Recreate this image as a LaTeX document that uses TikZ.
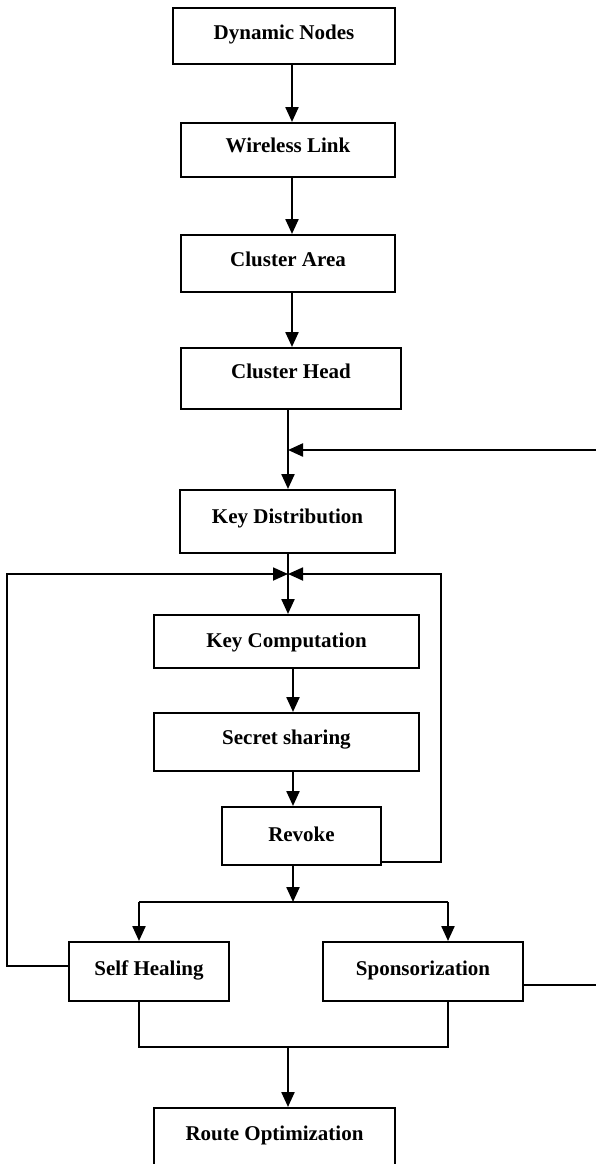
\documentclass[tikz,border=0pt]{standalone}
\usepackage{fontspec}
\setmainfont{Liberation Serif}
\usetikzlibrary{arrows.meta}
\begin{document}
\begin{tikzpicture}[x=1pt,y=-1pt,
  box/.style={draw, line width=2pt, inner sep=0pt,
    font=\fontsize{21}{25}\selectfont\bfseries, text height=14pt, text depth=8pt},
  tip/.style={-{Triangle[width=13pt,length=15pt]}},
  arr/.style={line width=2.3pt, tip},
  ln/.style={line width=1.8pt}]
\useasboundingbox (0,0) rectangle (596,1164);
\fill[white] (0,0) rectangle (596,1164);
\clip (0,0) rectangle (596,1164);
% boxes
\node[box, minimum width=222pt, minimum height=56pt, text depth=6pt] (dyn) at (284,36) {Dynamic Nodes};
\node[box, minimum width=214pt, minimum height=54pt, text depth=10pt] (wl) at (288,150) {Wireless Link};
\node[box, minimum width=214pt, minimum height=57pt] (ca) at (288,263.5) {Cluster Area};
\node[box, minimum width=220pt, minimum height=61pt, text depth=14pt] (ch) at (291,378.5) {Cluster Head};
\node[box, minimum width=215pt, minimum height=63pt, text depth=11pt] (kd) at (287.5,521.5) {Key Distribution};
\node[box, minimum width=265pt, minimum height=53pt, text depth=3pt] (kc) at (286.5,641.5) {Key Computation};
\node[box, minimum width=265pt, minimum height=58pt, text depth=10pt] (ss) at (286.5,742) {Secret sharing};
\node[box, minimum width=159pt, minimum height=58pt, text depth=4pt] (rv) at (301.5,836) {Revoke};
\node[box, minimum width=160pt, minimum height=59pt, text depth=7pt] (sh) at (149,971.5) {Self Healing};
\node[box, minimum width=200pt, minimum height=59pt, text depth=7pt] (sp) at (423,971.5) {Sponsorization};
\node[box, minimum width=241pt, minimum height=60pt, text depth=10pt] (ro) at (274.5,1138) {Route Optimization};
% helper coordinates
\coordinate (xA) at (292,0);
\coordinate (xB) at (288,0);
\coordinate (xC) at (293,0);
\coordinate (xL) at (7,0);
\coordinate (xR) at (441,0);
\coordinate (xE) at (597,0);
\coordinate (xSH) at (139,0);
\coordinate (xSP) at (448,0);
\coordinate (yIn) at (0,450);
\coordinate (yX) at (0,574);
\coordinate (ySplit) at (0,902);
\coordinate (yMerge) at (0,1047);
\coordinate (ySP) at (0,985);
\coordinate (ySH) at (0,966);
\coordinate (yRV) at (0,862);
% main chain
\draw[arr] (dyn.south -| xA) -- (wl.north -| xA);
\draw[arr] (wl.south -| xA) -- (ca.north -| xA);
\draw[arr] (ca.south -| xA) -- (ch.north -| xA);
\draw[arr] (ch.south -| xB) -- (kd.north -| xB);
\draw[arr] (xE |- yIn) -- (xB |- yIn);
\draw[arr] (kd.south -| xB) -- (kc.north -| xB);
\draw[arr] (kc.south -| xC) -- (ss.north -| xC);
\draw[arr] (ss.south -| xC) -- (rv.north -| xC);
% feedback loops
\draw[ln, tip] (sh.west |- ySH) -- (xL |- ySH) -- (xL |- yX) -- (xB |- yX);
\draw[ln, tip] (rv.east |- yRV) -- (xR |- yRV) -- (xR |- yX) -- (xB |- yX);
\draw[ln] (sp.east |- ySP) -- (xE |- ySP);
% split
\draw[arr] (rv.south -| xC) -- (xC |- ySplit);
\draw[ln] (xSH |- ySplit) -- (xSP |- ySplit);
\draw[arr] (xSH |- ySplit) -- (sh.north -| xSH);
\draw[arr] (xSP |- ySplit) -- (sp.north -| xSP);
% merge
\draw[ln] (sh.south -| xSH) -- (xSH |- yMerge) -- (xSP |- yMerge) -- (sp.south -| xSP);
\draw[arr] (xB |- yMerge) -- (ro.north -| xB);
\end{tikzpicture}
\end{document}
